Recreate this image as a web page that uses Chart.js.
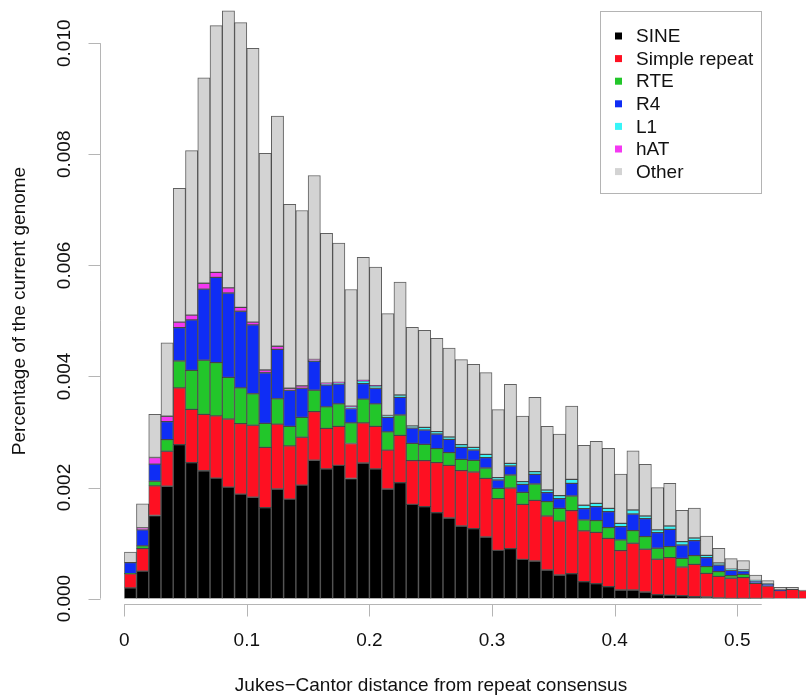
<!DOCTYPE html>
<html>
<head>
<meta charset="utf-8">
<script src="https://cdn.jsdelivr.net/npm/chart.js@4.4.0/dist/chart.umd.min.js"></script>
<style>
    html, body { margin: 0; padding: 0; background: #fff; overflow: hidden; }
    canvas { display: block; }
</style>
</head>
<body>
<canvas id="repeatChart" width="820" height="698"></canvas>
<script>
// Repeat landscape: share of the genome per 0.01 bin of Jukes-Cantor distance.
// All series values are in units of 1e-3 (multiplied out when the datasets are built).
const BIN_WIDTH = 0.01;
const UNIT = 1e-3;

const sine = [
    0.194, 0.495, 1.497, 2.023, 2.772, 2.449, 2.302, 2.169, 2.008, 1.882,
    1.825, 1.637, 1.973, 1.791, 2.043, 2.491, 2.337, 2.400, 2.162, 2.442,
    2.337, 1.973, 2.087, 1.697, 1.655, 1.547, 1.452, 1.307, 1.259, 1.109,
    0.869, 0.899, 0.707, 0.677, 0.515, 0.425, 0.449, 0.305, 0.269, 0.215,
    0.155, 0.155, 0.119, 0.071, 0.062, 0.053, 0.035, 0.029, 0.010, 0.005,
    0.005, 0.003, 0.002, 0, 0, 0
];
const simpleRepeat = [
    0.252, 0.406, 0.532, 0.630, 1.022, 0.959, 1.016, 1.121, 1.226, 1.268,
    1.296, 1.085, 1.169, 0.959, 0.862, 0.876, 0.729, 0.701, 0.631, 0.722,
    0.764, 0.700, 0.853, 0.786, 0.828, 0.901, 0.948, 0.997, 1.021, 1.057,
    0.930, 1.092, 0.990, 1.092, 0.972, 0.972, 1.134, 0.913, 0.924, 0.870,
    0.708, 0.841, 0.769, 0.637, 0.675, 0.516, 0.582, 0.426, 0.391, 0.361,
    0.372, 0.272, 0.225, 0.143, 0.167, 0.143
];
const rte = [
    0.005, 0.049, 0.084, 0.210, 0.484, 0.701, 0.973, 0.959, 0.749, 0.644,
    0.568, 0.434, 0.456, 0.351, 0.357, 0.385, 0.385, 0.406, 0.371, 0.427,
    0.406, 0.329, 0.366, 0.312, 0.294, 0.252, 0.228, 0.204, 0.210, 0.186,
    0.186, 0.234, 0.216, 0.294, 0.258, 0.228, 0.264, 0.198, 0.210, 0.192,
    0.192, 0.228, 0.228, 0.198, 0.198, 0.156, 0.156, 0.120, 0.084, 0.048,
    0.060, 0.005, 0, 0, 0, 0
];
const r4 = [
    0.197, 0.288, 0.308, 0.322, 0.602, 0.910, 1.282, 1.534, 1.520, 1.380,
    1.240, 0.911, 0.889, 0.651, 0.525, 0.518, 0.392, 0.357, 0.259, 0.280,
    0.280, 0.260, 0.318, 0.276, 0.258, 0.264, 0.240, 0.216, 0.186, 0.186,
    0.151, 0.163, 0.145, 0.174, 0.162, 0.174, 0.228, 0.204, 0.252, 0.288,
    0.240, 0.300, 0.324, 0.282, 0.312, 0.240, 0.270, 0.162, 0.120, 0.096,
    0.060, 0.036, 0.030, 0.012, 0, 0
];
const l1 = [
    0, 0, 0, 0, 0, 0, 0, 0, 0, 0,
    0, 0, 0, 0, 0, 0.010, 0.010, 0.010, 0.035, 0.049,
    0.042, 0.035, 0.042, 0.036, 0.048, 0.042, 0.042, 0.048, 0.048, 0.060,
    0.042, 0.048, 0.048, 0.048, 0.048, 0.054, 0.072, 0.060, 0.060, 0.060,
    0.060, 0.072, 0.048, 0.048, 0.060, 0.060, 0.048, 0.042, 0.036, 0.018,
    0.018, 0.010, 0.006, 0, 0, 0
];
const hat = [
    0, 0.035, 0.119, 0.098, 0.098, 0.084, 0.105, 0.091, 0.091, 0.070,
    0.049, 0.049, 0.056, 0.035, 0.042, 0.025, 0.025, 0.018, 0.005, 0.010,
    0.005, 0, 0, 0, 0, 0, 0, 0, 0, 0,
    0, 0, 0, 0, 0, 0, 0, 0, 0, 0,
    0, 0, 0, 0, 0, 0, 0, 0, 0, 0,
    0, 0, 0, 0, 0, 0
];
const other = [
    0.189, 0.434, 0.777, 1.324, 2.410, 2.963, 3.698, 4.441, 4.987, 5.127,
    4.931, 3.902, 4.147, 3.313, 3.159, 3.313, 2.697, 2.508, 2.102, 2.214,
    2.137, 1.834, 2.034, 1.777, 1.747, 1.680, 1.602, 1.530, 1.494, 1.470,
    1.224, 1.423, 1.182, 1.339, 1.146, 1.110, 1.321, 1.080, 1.116, 1.081,
    0.888, 1.063, 0.930, 0.762, 0.768, 0.565, 0.541, 0.348, 0.264, 0.192,
    0.168, 0.096, 0.060, 0.048, 0.036, 0.012
];

const seriesNames = ['SINE', 'Simple repeat', 'RTE', 'R4', 'L1', 'hAT', 'Other'];
const seriesValues = [sine, simpleRepeat, rte, r4, l1, hat, other];
const seriesColors = ['#000000', '#fe1022', '#22c62a', '#0f2df5', '#38f5f8', '#f438f2', '#d3d3d3'];

const TICKS_X = [0, 0.1, 0.2, 0.3, 0.4, 0.5];
const TICK_LABELS_X = ['0', '0.1', '0.2', '0.3', '0.4', '0.5'];
const TICKS_Y = [0, 0.002, 0.004, 0.006, 0.008, 0.010];
const TICK_LABELS_Y = ['0.000', '0.002', '0.004', '0.006', '0.008', '0.010'];
const X_AXIS_END = 0.52;

const FONT = '19px "Liberation Sans", Arial, Helvetica, sans-serif';

// base-graphics style axes, titles and boxed legend
const axesAndLegend = {
    id: 'axesAndLegend',
    afterDraw(chart) {
        const ctx = chart.ctx;
        const xs = chart.scales.x;
        const ys = chart.scales.y;
        ctx.save();
        ctx.strokeStyle = '#b5b5b5';
        ctx.lineWidth = 1;
        ctx.fillStyle = '#111';
        ctx.font = FONT;

        // x axis
        const axisY = 604.5;
        ctx.beginPath();
        ctx.moveTo(xs.getPixelForValue(0), axisY);
        ctx.lineTo(xs.getPixelForValue(X_AXIS_END), axisY);
        TICKS_X.forEach(function (v) {
            const px = Math.round(xs.getPixelForValue(v)) + 0.5;
            ctx.moveTo(px, axisY);
            ctx.lineTo(px, axisY + 12);
        });
        ctx.stroke();
        ctx.textAlign = 'center';
        ctx.textBaseline = 'middle';
        TICKS_X.forEach(function (v, i) {
            ctx.fillText(TICK_LABELS_X[i], xs.getPixelForValue(v), 641);
        });

        // y axis
        const axisX = 100.5;
        ctx.beginPath();
        ctx.moveTo(axisX, ys.getPixelForValue(0));
        ctx.lineTo(axisX, ys.getPixelForValue(0.010));
        TICKS_Y.forEach(function (v) {
            const py = Math.round(ys.getPixelForValue(v)) + 0.5;
            ctx.moveTo(axisX, py);
            ctx.lineTo(axisX - 12, py);
        });
        ctx.stroke();
        TICKS_Y.forEach(function (v, i) {
            ctx.save();
            ctx.translate(65, ys.getPixelForValue(v));
            ctx.rotate(-Math.PI / 2);
            ctx.fillText(TICK_LABELS_Y[i], 0, 0);
            ctx.restore();
        });

        // axis titles
        ctx.fillText('Jukes\u2212Cantor distance from repeat consensus', 431, 686);
        ctx.save();
        ctx.translate(20, 311);
        ctx.rotate(-Math.PI / 2);
        ctx.fillText('Percentage of the current genome', 0, 0);
        ctx.restore();

        // legend
        ctx.strokeStyle = '#b4b4b4';
        ctx.strokeRect(600.5, 11.5, 161, 182);
        ctx.textAlign = 'left';
        chart.data.datasets.forEach(function (ds, i) {
            const rowY = 36 + i * 22.6;
            ctx.fillStyle = ds.backgroundColor;
            ctx.fillRect(615, rowY - 3.5, 7, 7);
            ctx.fillStyle = '#111';
            ctx.fillText(ds.label, 636, rowY + 1);
        });
        ctx.restore();
    }
};

const ctxRepeat = document.getElementById('repeatChart').getContext('2d');
new Chart(ctxRepeat, {
    type: 'bar',
    data: {
        datasets: seriesNames.map(function (name, s) {
            return {
                label: name,
                data: seriesValues[s].map(function (v, i) {
                    return { x: (i + 0.5) * BIN_WIDTH, y: v * UNIT };
                }),
                backgroundColor: seriesColors[s],
                borderColor: 'rgba(30, 30, 30, 0.7)',
                borderWidth: 1,
                borderSkipped: false,
                barPercentage: 1,
                categoryPercentage: 1
            };
        })
    },
    options: {
        responsive: false,
        animation: false,
        layout: {
            padding: { left: 124.2, right: 9.2, top: 0, bottom: 99.4 }
        },
        scales: {
            x: {
                type: 'linear',
                stacked: true,
                offset: false,
                min: 0,
                max: 0.56,
                display: false
            },
            y: {
                stacked: true,
                min: 0,
                max: 0.0107778,
                display: false
            }
        },
        plugins: {
            legend: { display: false },
            tooltip: { enabled: false }
        }
    },
    plugins: [axesAndLegend]
});
</script>
</body>
</html>
